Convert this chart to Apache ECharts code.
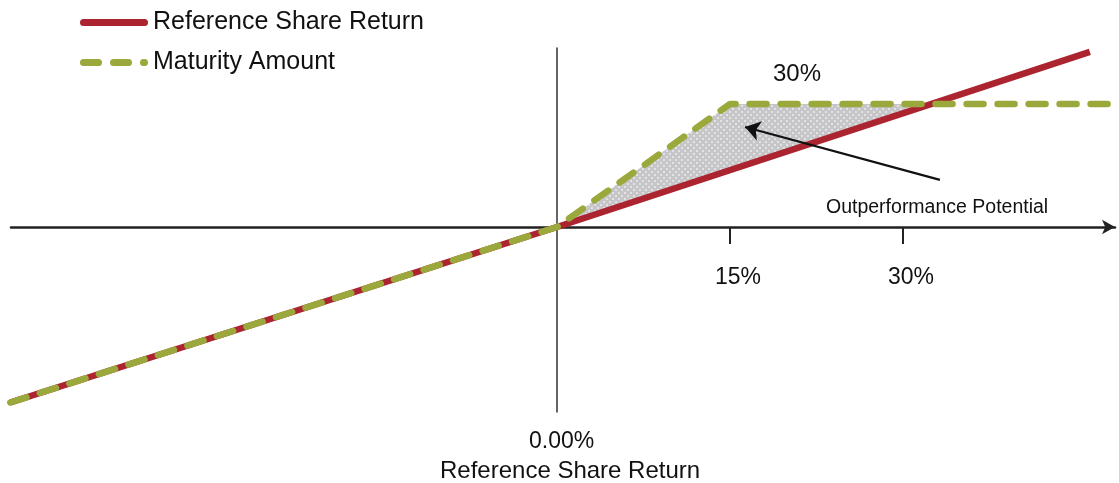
<!DOCTYPE html>
<html>
<head>
<meta charset="utf-8">
<script src="https://cdn.jsdelivr.net/npm/echarts@6/dist/echarts.min.js"></script>
<style>
html,body{margin:0;padding:0;background:#fff;}
#chart{width:1119px;height:483px;}
</style>
</head>
<body>
<div id="chart"></div>
<script>
// ---- data (percent) ----
var seriesNames = ['Reference Share Return', 'Maturity Amount'];
var refX = [-47.4, 0, 46.2];
var refY = [-42.8, 0, 42.7];
var maturityX = [-47.4, 0, 15, 47.8];
var maturityY = [-42.8, 0, 30, 30];
var shadeX = [0, 15, 32.2, 0];
var shadeY = [0, 30, 30, 0];
var tickValues = [15, 30];
var capLabel = '30%';
var originLabel = '0.00%';
var axisTitle = 'Reference Share Return';
var arrowFrom = [33.2, 11.5];
var arrowTo = [16.3, 24.4];
var arrowText = 'Outperformance Potential';

function pairs(xs, ys){ return xs.map(function(x,i){ return [x, ys[i]]; }); }

function seg(a, b){
  var r = 3.5;
  return 'M' + (a + r) + ',0 H' + (b - r) + ' A' + r + ',' + r + ' 0 0 1 ' + (b - r) + ',7 H' + (a + r) +
         ' A' + r + ',' + r + ' 0 0 1 ' + (a + r) + ',0 Z ';
}
var redIcon = 'path://' + seg(0, 68);
var greenIcon = 'path://' + seg(0, 22) + seg(30, 52) + seg(60, 68);

// hatch pattern for the shaded region
var pat = document.createElement('canvas');
pat.width = 6; pat.height = 6;
var pc = pat.getContext('2d');
pc.fillStyle = '#c6c6c9'; pc.fillRect(0,0,6,6);
pc.fillStyle = '#e2e2e4';
pc.fillRect(0,0,2,2); pc.fillRect(3,3,2,2);

var FONT = "'Liberation Sans', Arial, sans-serif";
var chart = echarts.init(document.getElementById('chart'), null, {renderer:'canvas'});
var option = {
  animation: false,
  backgroundColor: '#ffffff',
  grid: { left: 11, right: 4, top: 48, bottom: 71, containLabel: false },
  legend: {
    orient: 'vertical', left: 80, top: 10, itemGap: 15, padding: 0,
    itemWidth: 68, itemHeight: 7,
    textStyle: { fontFamily: FONT, fontSize: 25, color: '#111' },
    data: [
      { name: seriesNames[0], icon: redIcon },
      { name: seriesNames[1], icon: greenIcon }
    ]
  },
  xAxis: {
    type: 'value', min: -47.34, max: 48.38,
    axisLine: { onZero: true, symbol: ['none','arrow'], symbolSize: [11, 13],
      lineStyle: { color: '#222', width: 2.5 } },
    axisTick: { show: true, customValues: tickValues, length: 17, inside: false,
      lineStyle: { color: '#222', width: 2 } },
    axisLabel: { show: true, customValues: tickValues, margin: -146,
      padding: [0, 0, 0, 16],
      formatter: '{value}%', fontFamily: FONT, fontSize: 23, color: '#111' },
    splitLine: { show: false }
  },
  yAxis: {
    type: 'value', min: -45.12, max: 43.66,
    axisLine: { show: true, onZero: true, lineStyle: { color: '#333', width: 1.5 } },
    axisTick: { show: false }, axisLabel: { show: false }, splitLine: { show: false }
  },
  series: [
    {
      type: 'custom', name: 'shade', z: 1, silent: true,
      data: pairs(shadeX, shadeY),
      encode: { x: 0, y: 1 },
      renderItem: function(params, api){
        if (params.dataIndex !== 0) return;
        var pts = shadeX.map(function(x,i){ return api.coord([x, shadeY[i]]); });
        return { type: 'polygon', shape: { points: pts },
          style: { fill: { image: pat, repeat: 'repeat' } } };
      }
    },
    {
      type: 'line', name: seriesNames[0], z: 3, clip: false,
      data: pairs(refX, refY), symbol: 'none', color: '#ab2430',
      lineStyle: { color: '#ab2430', width: 6.5 }
    },
    {
      type: 'line', name: seriesNames[1], z: 4, clip: false,
      data: pairs(maturityX, maturityY), symbol: 'none', color: '#9aa83c',
      lineStyle: { color: '#9aa83c', width: 6.5, type: [17, 14], cap: 'round' },
      markLine: {
        silent: true, animation: false, symbolSize: 15,
        label: { show: false },
        lineStyle: { color: '#111', width: 2.2, type: 'solid' },
        data: [[ { coord: arrowFrom, symbol: 'none' }, { coord: arrowTo, symbol: 'arrow' } ]]
      }
    }
  ],
  graphic: [
    { type: 'text', left: 800 - 27, top: 73 - 11, style: { text: capLabel, font: '24px ' + FONT, fill: '#111' } },
    { type: 'text', left: 826, top: 207 - 9, style: { text: arrowText, font: '19.5px ' + FONT, fill: '#111' } },
    { type: 'text', left: 529, top: 440 - 10, style: { text: originLabel, font: '23px ' + FONT, fill: '#111' } },
    { type: 'text', left: 440, top: 470 - 11, style: { text: axisTitle, font: '24px ' + FONT, fill: '#111' } }
  ]
};
chart.setOption(option);
</script>
</body>
</html>
